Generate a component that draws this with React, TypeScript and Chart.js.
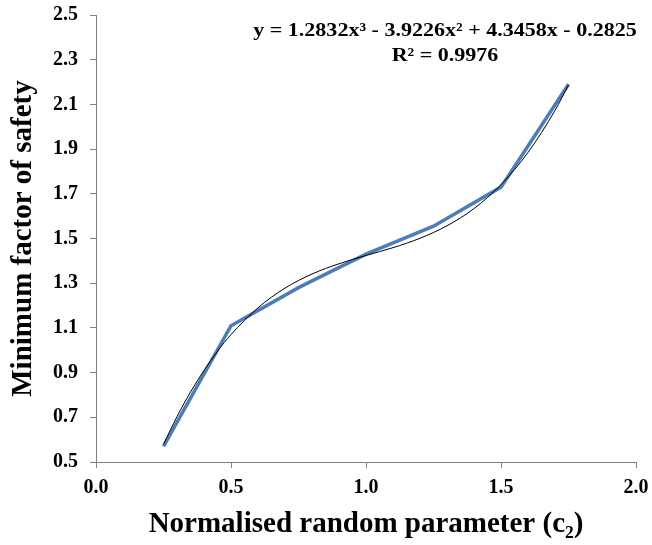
import React, { useEffect, useRef } from "react";
import { Chart, registerables } from "chart.js";

Chart.register(...registerables);

const xValues = [0.25, 0.5, 0.75, 1.0, 1.25, 1.5, 1.75];
const fosValues = [0.57, 1.11, 1.28, 1.43, 1.555, 1.73, 2.19];

const trendX = [0.25, 0.3, 0.35, 0.4, 0.45, 0.5, 0.6, 0.7, 0.8, 0.9, 1.0, 1.1, 1.2, 1.3, 1.4, 1.5, 1.6, 1.7, 1.75];
const trendY = [0.579, 0.703, 0.813, 0.910, 0.996, 1.070, 1.190, 1.278, 1.341, 1.387, 1.424, 1.459, 1.501, 1.557, 1.634, 1.741, 1.885, 2.073, 2.187];

const equationText = "y = 1.2832x\u00B3 - 3.9226x\u00B2 + 4.3458x - 0.2825";
const r2Text = "R\u00B2 = 0.9976";
const xTitle = "Normalised random parameter (c\u2082)";
const yTitle = "Minimum factor of safety";

const FONT = "'Liberation Serif', 'Times New Roman', serif";

const equationPlugin = {
  id: "equationPlugin",
  afterDraw(chart: any) {
    const ctx = chart.ctx;
    ctx.save();
    ctx.fillStyle = "#000";
    ctx.font = `bold 19px ${FONT}`;
    ctx.textAlign = "center";
    ctx.textBaseline = "middle";
    ctx.translate(445, 0);
    ctx.scale(1.16, 1);
    ctx.fillText(equationText, 0, 31);
    ctx.fillText(r2Text, 0, 56);
    ctx.restore();
  },
};

export default function App() {
  const ref = useRef<HTMLCanvasElement | null>(null);
  useEffect(() => {
    document.body.style.margin = "0";
    if (!ref.current) return;
    const chart = new Chart(ref.current, {
      type: "line",
      data: {
        datasets: [
          {
            label: "trend",
            data: trendX.map((x, i) => ({ x, y: trendY[i] })),
            borderColor: "#000",
            borderWidth: 1,
            pointRadius: 0,
            tension: 0.4,
            cubicInterpolationMode: "monotone",
            order: 0,
          },
          {
            label: "fos",
            data: xValues.map((x, i) => ({ x, y: fosValues[i] })),
            borderColor: "#4A7EBB",
            borderWidth: 3.5,
            pointRadius: 0,
            tension: 0,
            order: 1,
          },
        ],
      },
      options: {
        animation: false,
        responsive: false,
        layout: { padding: { left: 0, right: 16, top: 15, bottom: 0 } },
        plugins: { legend: { display: false }, tooltip: { enabled: false } },
        scales: {
          x: {
            type: "linear",
            min: 0,
            max: 2,
            afterFit: (s: any) => { s.height = 83; s.paddingLeft = 0; s.paddingRight = 0; },
            ticks: {
              stepSize: 0.5,
              padding: 8,
              color: "#000",
              font: { family: FONT, size: 20, weight: "bold" },
              callback: (v: any) => Number(v).toFixed(1),
            },
            grid: { drawOnChartArea: false, drawTicks: true, tickLength: 6, color: "#808080", lineWidth: 1 },
            border: { color: "#808080", width: 1 },
            title: {
              display: true,
              text: xTitle,
              color: "#000",
              font: { family: FONT, size: 29, weight: "bold" },
              padding: { top: 8, bottom: 3 },
            },
          },
          y: {
            min: 0.5,
            max: 2.5,
            afterFit: (s: any) => { s.width = 96; s.paddingTop = 0; s.paddingBottom = 0; },
            ticks: {
              stepSize: 0.2,
              padding: 12,
              color: "#000",
              font: { family: FONT, size: 20, weight: "bold" },
              callback: (v: any) => Number(v).toFixed(1),
            },
            grid: { drawOnChartArea: false, drawTicks: true, tickLength: 6, color: "#808080", lineWidth: 1 },
            border: { color: "#808080", width: 1 },
            title: {
              display: true,
              text: yTitle,
              color: "#000",
              font: { family: FONT, size: 29, weight: "bold" },
              padding: { top: 6, bottom: 4 },
            },
          },
        },
      },
      plugins: [equationPlugin],
    } as any);
    return () => chart.destroy();
  }, []);
  return (
    <div style={{ position: "absolute", left: 0, top: 0, width: 652, height: 545, background: "#fff" }}>
      <canvas ref={ref} width={652} height={545} />
    </div>
  );
}
